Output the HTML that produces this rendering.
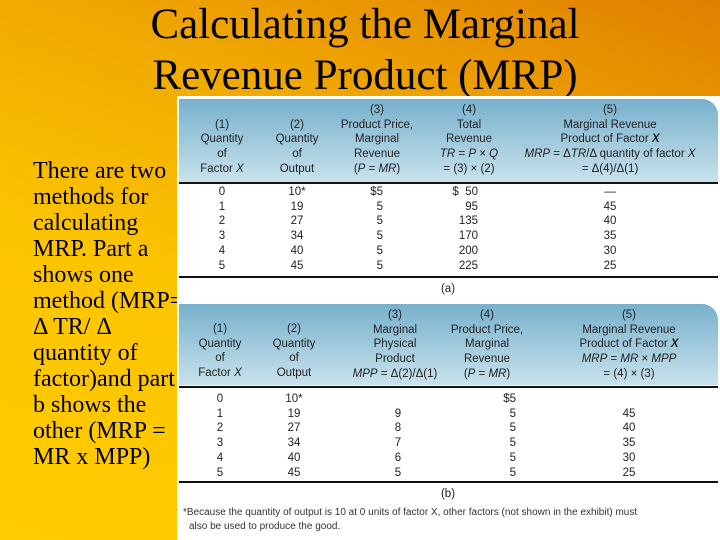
<!DOCTYPE html>
<html><head><meta charset="utf-8">
<style>
*{margin:0;padding:0;box-sizing:border-box}
body{width:720px;height:540px;overflow:hidden;position:relative;
 background:linear-gradient(200deg,#e07f00 0%,#f0a800 30%,#fbc400 60%,#ffcc00 100%);
 font-family:"Liberation Serif",serif}
.t{position:absolute;left:0;width:730px;text-align:center;font-size:43px;color:#000;line-height:1;white-space:nowrap}
.side{position:absolute;left:33px;top:158px;font-size:24px;line-height:26px;color:#000;white-space:nowrap}
#panel{position:absolute;left:177px;top:96px;width:543px;height:444px;background:#fff;font-family:"Liberation Sans",sans-serif;color:#222;z-index:2}
.hdr{position:absolute;left:2px;width:539px;background:linear-gradient(#78b0cc,#c8e2ec);border-top-right-radius:16px}
.rule{position:absolute;left:2px;width:539px;background:#111}
.c{position:absolute;font-size:11.5px;line-height:14.7px;text-align:center;transform:translateX(-50%);white-space:nowrap}
.r{position:absolute;font-size:11.5px;line-height:14.7px;text-align:right;transform:translateX(-100%);white-space:nowrap}
.fn{position:absolute;left:6px;font-size:10px;color:#333;white-space:nowrap}
</style></head><body>
<div class="t" style="top:3px">Calculating the Marginal</div>
<div class="t" style="top:54px">Revenue Product (MRP)</div>
<div class="side">There are two<br>methods for<br>calculating<br>MRP. Part a<br>shows one<br>method (MRP=<br>Δ TR/ Δ<br>quantity of<br>factor)and part<br>b shows the<br>other (MRP =<br>MR x MPP)</div>
<div id="panel">
 <div class="hdr" style="top:3px;height:83px"></div>
 <div class="c" style="left:45px;top:7px;padding-top:14.7px">(1)<br>Quantity<br>of<br>Factor <i>X</i></div>
 <div class="c" style="left:120px;top:7px;padding-top:14.7px">(2)<br>Quantity<br>of<br>Output</div>
 <div class="c" style="left:200px;top:7px">(3)<br>Product Price,<br>Marginal<br>Revenue<br>(<i>P</i> = <i>MR</i>)</div>
 <div class="c" style="left:292px;top:7px">(4)<br>Total<br>Revenue<br><i>TR</i> = <i>P</i> × <i>Q</i><br>= (3) × (2)</div>
 <div class="c" style="left:433px;top:7px">(5)<br>Marginal Revenue<br>Product of Factor <b><i>X</i></b><br><i>MRP</i> = Δ<i>TR</i>/Δ quantity of factor <i>X</i><br>= Δ(4)/Δ(1)</div>
 <div class="rule" style="top:86px;height:2px"></div>
 <div class="c" style="left:45px;top:89px">0<br>1<br>2<br>3<br>4<br>5</div>
 <div class="c" style="left:120px;top:89px">10*<br>19<br>27<br>34<br>40<br>45</div>
 <div class="r" style="left:206px;top:89px">$5<br>5<br>5<br>5<br>5<br>5</div>
 <div class="r" style="left:301px;top:89px">$&nbsp;&nbsp;50<br>95<br>135<br>170<br>200<br>225</div>
 <div class="c" style="left:433px;top:89px">—<br>45<br>40<br>35<br>30<br>25</div>
 <div class="rule" style="top:180px;height:2px"></div>
 <div class="c" style="left:271px;top:186px">(a)</div>

 <div class="hdr" style="top:208px;height:81px"></div>
 <div class="c" style="left:43px;top:226px">(1)<br>Quantity<br>of<br>Factor <i>X</i></div>
 <div class="c" style="left:117px;top:226px">(2)<br>Quantity<br>of<br>Output</div>
 <div class="c" style="left:218px;top:212px">(3)<br>Marginal<br>Physical<br>Product<br><i>MPP</i> = Δ(2)/Δ(1)</div>
 <div class="c" style="left:310px;top:212px">(4)<br>Product Price,<br>Marginal<br>Revenue<br>(<i>P</i> = <i>MR</i>)</div>
 <div class="c" style="left:452px;top:212px">(5)<br>Marginal Revenue<br>Product of Factor <b><i>X</i></b><br><i>MRP</i> = <i>MR</i> × <i>MPP</i><br>= (4) × (3)</div>
 <div class="rule" style="top:290px;height:2px"></div>
 <div class="c" style="left:43px;top:296px">0<br>1<br>2<br>3<br>4<br>5</div>
 <div class="c" style="left:117px;top:296px">10*<br>19<br>27<br>34<br>40<br>45</div>
 <div class="c" style="left:221px;top:296px">&nbsp;<br>9<br>8<br>7<br>6<br>5</div>
 <div class="r" style="left:339px;top:296px">$5<br>5<br>5<br>5<br>5<br>5</div>
 <div class="c" style="left:452px;top:296px">&nbsp;<br>45<br>40<br>35<br>30<br>25</div>
 <div class="rule" style="top:385px;height:2px"></div>
 <div class="c" style="left:271px;top:391px">(b)</div>
 <div class="fn" style="top:411px">*Because the quantity of output is 10 at 0 units of factor X, other factors (not shown in the exhibit) must</div>
 <div class="fn" style="top:425px;left:12px">also be used to produce the good.</div>
</div>
</body></html>
